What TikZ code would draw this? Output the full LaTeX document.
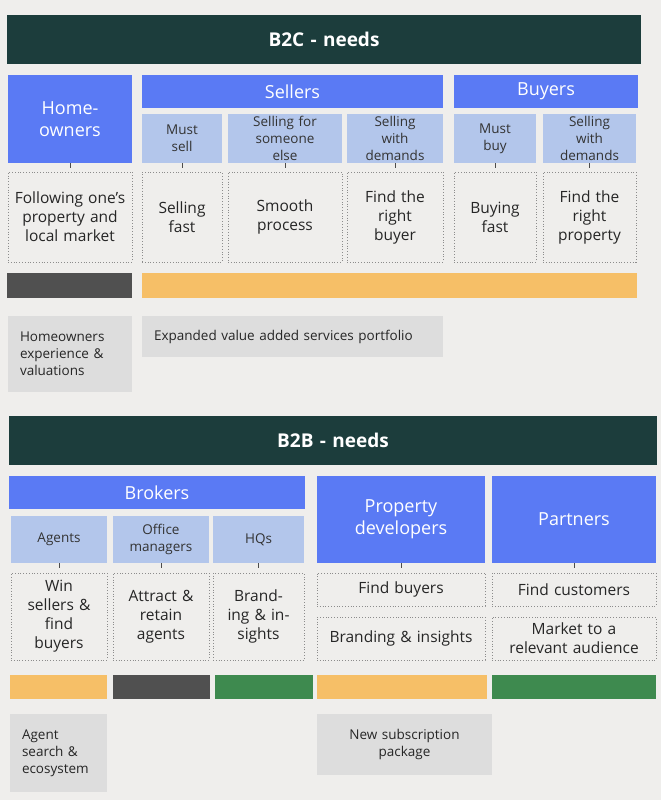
\documentclass[tikz,border=0pt]{standalone}
\usepackage{fontspec}
\setmainfont{Open Sans}
\usetikzlibrary{positioning}

\definecolor{bgcol}{HTML}{EFEEEC}
\definecolor{headcol}{HTML}{1C3D3C}
\definecolor{bluecol}{HTML}{5A7AF4}
\definecolor{paleblue}{HTML}{B3C6EB}
\definecolor{orangecol}{HTML}{F6BF67}
\definecolor{greencol}{HTML}{3E8A4F}
\definecolor{darkcol}{HTML}{505050}
\definecolor{greycol}{HTML}{DDDDDD}

\tikzset{
  head/.style={fill=headcol, text=white, font=\fontsize{19}{22}\selectfont\bfseries},
  blue/.style={fill=bluecol, text=white, font=\fontsize{18}{22}\selectfont},
  sub/.style={fill=paleblue, text=black!80, font=\fontsize{13.5}{17}\selectfont},
  need/.style={draw=black!45, dotted, thick, text=black!85, font=\fontsize{15.5}{19}\selectfont},
  serv/.style={fill=greycol, text=black!85, font=\fontsize{13.5}{17}\selectfont},
  tick/.style={draw=black!70, thick}
}

% block: name, x1, y1, x2, y2, style, text
\newcommand\blk[7]{%
  \node[#6, inner sep=0pt, align=center, text width={(#4-#2-8)*1pt},
        minimum width={(#4-#2)*1pt}, minimum height={(#5-#3)*1pt}]
        (#1) at ({(#2+#4)/2},{(#3+#5)/2}) {#7};}
% left aligned block
\newcommand\lblk[7]{%
  \node[#6, inner sep=0pt, align=left, text width={(#4-#2-24)*1pt},
        minimum width={(#4-#2)*1pt}, minimum height={(#5-#3)*1pt}]
        (#1) at ({(#2+#4)/2},{(#3+#5)/2}) {#7};}

\begin{document}
\begin{tikzpicture}[x=1pt, y=-1pt]
\fill[bgcol] (0,0) rectangle (661,800);
\useasboundingbox (0,0) rectangle (661,800);

% B2C
\blk{bcHead}{7}{15}{641}{64}{head}{B2C - needs}
\blk{home}{8}{75}{132}{163}{blue}{Home-\\owners}
\blk{sellers}{142}{75}{443}{108}{blue}{Sellers}
\blk{buyers}{454}{75}{638}{108}{blue}{Buyers}

\blk{mustSell}{142}{114}{222}{163}{sub}{Must\\sell}
\blk{someone}{228}{114}{342}{163}{sub}{Selling for\\someone\\else}
\blk{demSell}{347}{114}{443}{163}{sub}{Selling\\with\\demands}
\blk{mustBuy}{454}{114}{536}{163}{sub}{Must\\buy}
\blk{demBuy}{543}{114}{636}{163}{sub}{Selling\\with\\demands}

\blk{follow}{8}{172}{132}{262}{need}{Following one's property and local market}
\blk{fast}{142}{172}{222}{262}{need}{Selling\\fast}
\blk{smooth}{228}{172}{342}{262}{need}{Smooth\\process}
\blk{buyer}{347}{172}{443}{262}{need}{Find the\\right\\buyer}
\blk{buyFast}{454}{172}{536}{262}{need}{Buying\\fast}
\blk{prop}{543}{172}{636}{262}{need}{Find the\\right\\property}

\foreach \a in {home, mustSell, someone, demSell, mustBuy, demBuy}
  \draw[tick] (\a.south) -- ++(0,5);

\blk{barA}{7}{273}{132}{298}{fill=darkcol}{}
\blk{barB}{142}{273}{637}{298}{fill=orangecol}{}

\lblk{homeServ}{8}{316}{132}{392}{serv}{Homeowners experience \& valuations}
\lblk{valServ}{142}{316}{443}{357}{serv}{Expanded value added services portfolio}

% B2B
\blk{bbHead}{9}{416}{657}{465}{head}{B2B - needs}
\blk{brokers}{9}{476}{305}{509}{blue}{Brokers}
\blk{devs}{317}{476}{485}{563}{blue}{Property\\developers}
\blk{partners}{492}{476}{656}{563}{blue}{Partners}

\blk{agents}{11}{516}{107}{563}{sub}{Agents}
\blk{office}{113}{516}{209}{563}{sub}{Office\\managers}
\blk{hqs}{213}{516}{304}{563}{sub}{HQs}

\blk{win}{11}{573}{107}{660}{need}{Win\\sellers \&\\find\\buyers}
\blk{attract}{113}{573}{209}{660}{need}{Attract \&\\retain\\agents}
\blk{brand}{213}{573}{304}{660}{need}{Brand-\\ing \& in-\\sights}
\blk{findBuyers}{317}{573}{485}{606}{need}{Find buyers}
\blk{devBrand}{317}{617}{485}{660}{need}{Branding \& insights}
\blk{findCust}{492}{573}{656}{606}{need}{Find customers}
\blk{market}{492}{617}{656}{660}{need}{Market to a\\relevant audience}

\foreach \a in {agents, office, hqs, devs, partners}
  \draw[tick] (\a.south) -- ++(0,5);

\blk{barC}{10}{675}{107}{699}{fill=orangecol}{}
\blk{barD}{113}{675}{210}{699}{fill=darkcol}{}
\blk{barE}{215}{675}{313}{699}{fill=greencol}{}
\blk{barF}{317}{675}{487}{699}{fill=orangecol}{}
\blk{barG}{492}{675}{656}{699}{fill=greencol}{}

\lblk{agentServ}{10}{714}{107}{792}{serv}{Agent search \& ecosystem}
\blk{subServ}{317}{714}{492}{775}{serv}{New subscription\\package}
\end{tikzpicture}
\end{document}
